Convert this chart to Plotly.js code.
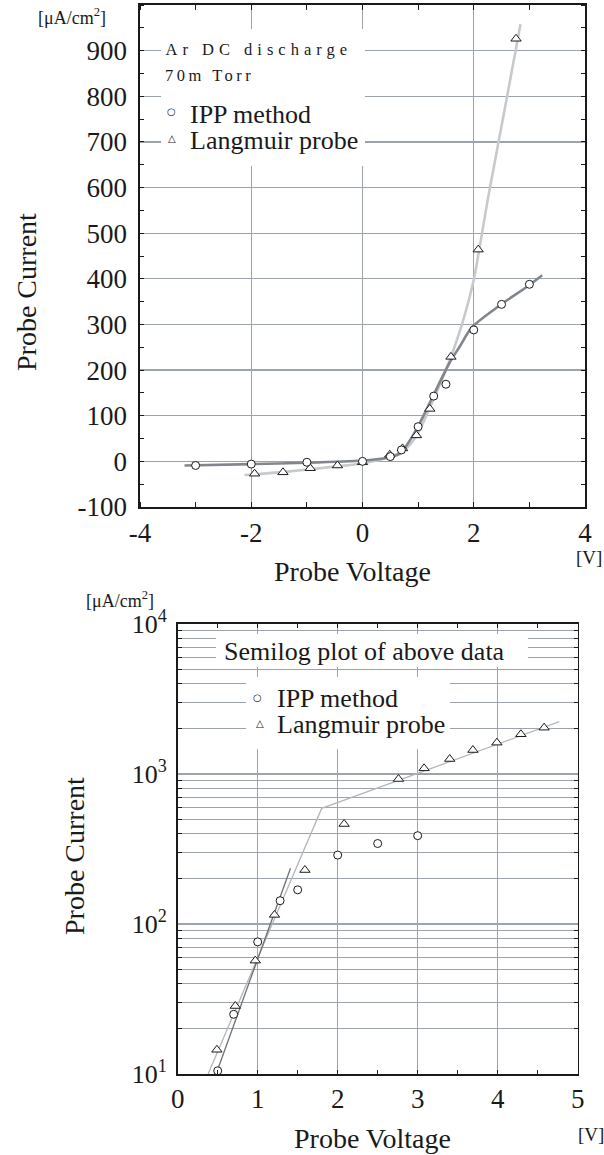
<!DOCTYPE html>
<html>
<head>
<meta charset="utf-8">
<script src="https://cdn.plot.ly/plotly-3.0.1.min.js"></script>
<style>
html,body{margin:0;padding:0;background:#fff;}
#chart{width:604px;height:1155px;}
g.annotation[data-index="0"] text{letter-spacing:5px;}
g.annotation[data-index="1"] text{letter-spacing:3.5px;}
</style>
</head>
<body>
<div id="chart"></div>
<script>
// ---------------- data ----------------
// IPP method measurements (probe voltage [V], probe current [uA/cm2])
const ippV = [-3, -2, -1, 0, 0.5, 0.7, 1.0, 1.28, 1.5, 2.0, 2.5, 3.0];
const ippI = [-9, -6, -2, 0, 10.5, 25, 76, 143, 169, 288, 344, 388];
// Langmuir probe measurements
const langV = [-1.94, -1.43, -0.94, -0.45, 0, 0.49, 0.72, 0.97, 1.21, 1.59, 2.08, 2.76, 3.08, 3.40, 3.69, 3.99, 4.29, 4.58];
const langI = [-27, -24, -15, -9, -2, 14.5, 28.4, 57, 115, 229, 464, 926, 1091, 1259, 1445, 1618, 1841, 2036];
// smooth fit curves (linear plot)
const ippFitV = [-3.2, -2, -1, 0, 0.4, 0.67, 0.96, 1.26, 1.56, 1.74, 1.97, 2.47, 2.95, 3.23];
const ippFitI = [-9, -6, -3, 2, 7, 17, 68, 141, 215, 250, 294, 342, 382, 408];
const langFitV = [-2.12, -1.4, -0.45, 0, 0.5, 0.8, 1.0, 1.2, 1.4, 1.6, 1.8, 2.0, 2.1, 2.25, 2.6, 2.84];
const langFitI = [-30, -23, -11, -4, 10, 30, 62, 115, 170, 232, 305, 398, 465, 572, 800, 958];
// straight fits (semilog plot)
const langLogFitV = [0.38, 1.8, 4.77];
const langLogFitI = [10, 590, 2233];
const ippLogFitV = [0.48, 1.41];
const ippLogFitI = [10, 235];
// tick labels
const xTicksTop = [-4, -2, 0, 2, 4];
const yTicksTop = [-100, 0, 100, 200, 300, 400, 500, 600, 700, 800, 900];
const xTicksBot = [0, 1, 2, 3, 4, 5];
const yTicksBot = [10, 100, 1000, 10000];
const yTickTextBot = ['10<sup>1</sup>', '10<sup>2</sup>', '10<sup>3</sup>', '10<sup>4</sup>'];
const seriesNames = ['IPP method', 'Langmuir probe'];

// ---------------- layout helpers ----------------
const W = 604, H = 1155;
const px = x => x / W;
const py = y => 1 - y / H;
const FONT = 'Liberation Serif';
const INK = '#1a1a1a';
const GRID = '#9ca3aa';
const DARK = '#80868c';
const LIGHT = '#c6cacd';

const minorLog = [];
for (let d = 10; d < 10000; d *= 10) for (let k = 2; k <= 9; k++) minorLog.push(k * d);

const circle = {symbol: 'circle', size: 8, color: '#fff', line: {color: INK, width: 1}};
const tri = {symbol: 'triangle-up', size: 9, color: '#fff', line: {color: INK, width: 1}};

const traces = [
  {x: langFitV, y: langFitI, xaxis: 'x', yaxis: 'y', mode: 'lines', line: {color: LIGHT, width: 2.6, shape: 'spline', smoothing: 0.8}, showlegend: false, hoverinfo: 'skip'},
  {x: ippFitV, y: ippFitI, xaxis: 'x', yaxis: 'y', mode: 'lines', line: {color: DARK, width: 2.6, shape: 'spline', smoothing: 0.8}, showlegend: false, hoverinfo: 'skip'},
  {x: langV, y: langI, xaxis: 'x', yaxis: 'y', mode: 'markers', marker: tri, name: seriesNames[1], showlegend: false},
  {x: ippV, y: ippI, xaxis: 'x', yaxis: 'y', mode: 'markers', marker: circle, name: seriesNames[0], showlegend: false},

  {x: langLogFitV, y: langLogFitI, xaxis: 'x2', yaxis: 'y2', mode: 'lines', line: {color: '#b3b7bb', width: 1.3}, showlegend: false, hoverinfo: 'skip'},
  {x: ippLogFitV, y: ippLogFitI, xaxis: 'x2', yaxis: 'y2', mode: 'lines', line: {color: '#6c7176', width: 1.3}, showlegend: false, hoverinfo: 'skip'},
  {x: langV, y: langI, xaxis: 'x2', yaxis: 'y2', mode: 'markers', marker: tri, name: seriesNames[1], showlegend: false, cliponaxis: false},
  {x: ippV, y: ippI, xaxis: 'x2', yaxis: 'y2', mode: 'markers', marker: circle, name: seriesNames[0], showlegend: false, cliponaxis: false}
];

function tf(size) { return {family: FONT, size: size, color: INK}; }

const axBase = () => ({
  showline: true, linecolor: INK, linewidth: 1.6, mirror: 'allticks',
  showgrid: true, gridcolor: GRID, gridwidth: 1.2, zeroline: false,
  tickfont: tf(27), fixedrange: true
});

const layout = {
  width: W, height: H,
  margin: {l: 0, r: 0, t: 0, b: 0},
  paper_bgcolor: '#fff', plot_bgcolor: '#fff',
  font: tf(20),
  showlegend: false,
  xaxis: Object.assign(axBase(), {
    domain: [px(140), px(585)], range: [-4, 4], anchor: 'y',
    tickmode: 'array', tickvals: xTicksTop, ticktext: xTicksTop.map(String), ticks: '',
    ticklabelstandoff: 1,
    minor: {tickmode: 'linear', tick0: 0, dtick: 1, ticks: 'inside', ticklen: 5, tickcolor: INK, tickwidth: 1, showgrid: false}
  }),
  yaxis: Object.assign(axBase(), {
    domain: [py(507), py(5)], range: [-100, 1000], anchor: 'x',
    tickmode: 'array', tickvals: yTicksTop, ticktext: yTicksTop.map(String), ticks: '',
    ticklabelstandoff: 6,
    minor: {tickmode: 'linear', tick0: 0, dtick: 50, ticks: 'inside', ticklen: 4, tickcolor: INK, tickwidth: 1, showgrid: false}
  }),
  xaxis2: Object.assign(axBase(), {
    domain: [px(177.7), px(577.7)], range: [0, 5], anchor: 'y2',
    tickmode: 'array', tickvals: xTicksBot, ticktext: xTicksBot.map(String),
    ticks: 'inside', ticklen: 4, tickcolor: INK, tickwidth: 1,
    ticklabelstandoff: 0,
    minor: {tickmode: 'linear', tick0: 0, dtick: 0.5, ticks: 'inside', ticklen: 4, tickcolor: INK, tickwidth: 1, showgrid: false}
  }),
  yaxis2: Object.assign(axBase(), {
    type: 'log', domain: [py(1074), py(624)], range: [1, 4], anchor: 'x2',
    tickmode: 'array', tickvals: yTicksBot, ticktext: yTickTextBot, ticks: '',
    tickfont: tf(26),
    ticklabelstandoff: 4,
    minor: {tickmode: 'array', tickvals: minorLog, ticks: 'inside', ticklen: 4, tickcolor: INK, tickwidth: 1, showgrid: true, gridcolor: GRID, gridwidth: 1.2}
  }),
  shapes: [
    {type: 'rect', xref: 'paper', yref: 'paper', x0: px(161), x1: px(365), y0: py(166), y1: py(29), fillcolor: '#fff', line: {width: 0}, layer: 'above'},
    {type: 'rect', xref: 'paper', yref: 'paper', x0: px(216), x1: px(528), y0: py(667), y1: py(634), fillcolor: '#fff', line: {width: 0}, layer: 'above'},
    {type: 'rect', xref: 'paper', yref: 'paper', x0: px(246), x1: px(450), y0: py(749), y1: py(677), fillcolor: '#fff', line: {width: 0}, layer: 'above'}
  ],
  annotations: []
};

function ann(text, x, y, size, opts) {
  return Object.assign({
    text: text, xref: 'paper', yref: 'paper', x: px(x), y: py(y),
    xanchor: 'center', yanchor: 'middle', showarrow: false,
    font: tf(size)
  }, opts || {});
}
const SYM = 'DejaVu Sans';
layout.annotations = [
  ann('Ar DC discharge', 259, 50, 16.5),
  ann('70m Torr', 210, 76, 16.5),
  ann('○', 171.7, 112, 10, {font: {family: SYM, size: 10, color: INK}}),
  ann(seriesNames[0], 188, 114, 26, {xanchor: 'left'}),
  ann('△', 171.7, 138, 10, {font: {family: SYM, size: 10, color: INK}}),
  ann(seriesNames[1], 188, 140, 26, {xanchor: 'left'}),
  ann('[μA/cm<sup>2</sup>]', 72, 17, 18),
  ann('[V]', 589, 558, 19),
  ann('Probe Voltage', 352, 571, 28),
  ann('Probe Current', 26, 292, 28, {textangle: -90}),

  ann('Semilog plot of above data', 364, 651, 26),
  ann('○', 257.7, 697, 10, {font: {family: SYM, size: 10, color: INK}}),
  ann(seriesNames[0], 275, 698, 26, {xanchor: 'left'}),
  ann('△', 260, 723, 10, {font: {family: SYM, size: 10, color: INK}}),
  ann(seriesNames[1], 275, 725, 26, {xanchor: 'left'}),
  ann('[μA/cm<sup>2</sup>]', 120, 599, 18),
  ann('[V]', 591, 1134, 19),
  ann('Probe Voltage', 372, 1138, 28),
  ann('Probe Current', 74, 856, 28, {textangle: -90})
];

Plotly.newPlot('chart', traces, layout, {displayModeBar: false, staticPlot: true});
</script>
</body>
</html>
